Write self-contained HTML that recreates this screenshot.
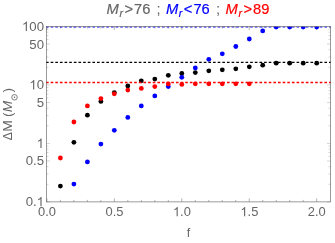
<!DOCTYPE html>
<html><head><meta charset="utf-8"><title>plot</title>
<style>
html,body{margin:0;padding:0;background:#fff;}
body{width:335px;height:243px;overflow:hidden;font-family:"Liberation Sans",sans-serif;}
svg{display:block;position:absolute;left:0;top:0;will-change:transform;}
text{font-family:"Liberation Sans",sans-serif;}
</style></head><body>
<svg width="335" height="243" viewBox="0 0 335 243">
<defs><clipPath id="c"><rect x="46.0" y="26.5" width="285.0" height="175.4"/></clipPath></defs>
<rect width="335" height="243" fill="#fff"/>
<g stroke="#666" stroke-width="0.28" fill="none"><line x1="46.50" y1="201.90" x2="50.00" y2="201.90"/><line x1="330.50" y1="201.90" x2="327.00" y2="201.90"/><line x1="46.50" y1="184.30" x2="48.50" y2="184.30"/><line x1="330.50" y1="184.30" x2="328.50" y2="184.30"/><line x1="46.50" y1="174.00" x2="48.50" y2="174.00"/><line x1="330.50" y1="174.00" x2="328.50" y2="174.00"/><line x1="46.50" y1="166.70" x2="48.50" y2="166.70"/><line x1="330.50" y1="166.70" x2="328.50" y2="166.70"/><line x1="46.50" y1="161.03" x2="50.00" y2="161.03"/><line x1="330.50" y1="161.03" x2="327.00" y2="161.03"/><line x1="46.50" y1="156.40" x2="48.50" y2="156.40"/><line x1="330.50" y1="156.40" x2="328.50" y2="156.40"/><line x1="46.50" y1="152.49" x2="48.50" y2="152.49"/><line x1="330.50" y1="152.49" x2="328.50" y2="152.49"/><line x1="46.50" y1="149.10" x2="48.50" y2="149.10"/><line x1="330.50" y1="149.10" x2="328.50" y2="149.10"/><line x1="46.50" y1="146.11" x2="48.50" y2="146.11"/><line x1="330.50" y1="146.11" x2="328.50" y2="146.11"/><line x1="46.50" y1="143.43" x2="50.00" y2="143.43"/><line x1="330.50" y1="143.43" x2="327.00" y2="143.43"/><line x1="46.50" y1="125.83" x2="48.50" y2="125.83"/><line x1="330.50" y1="125.83" x2="328.50" y2="125.83"/><line x1="46.50" y1="115.54" x2="48.50" y2="115.54"/><line x1="330.50" y1="115.54" x2="328.50" y2="115.54"/><line x1="46.50" y1="108.23" x2="48.50" y2="108.23"/><line x1="330.50" y1="108.23" x2="328.50" y2="108.23"/><line x1="46.50" y1="102.57" x2="50.00" y2="102.57"/><line x1="330.50" y1="102.57" x2="327.00" y2="102.57"/><line x1="46.50" y1="97.94" x2="48.50" y2="97.94"/><line x1="330.50" y1="97.94" x2="328.50" y2="97.94"/><line x1="46.50" y1="94.02" x2="48.50" y2="94.02"/><line x1="330.50" y1="94.02" x2="328.50" y2="94.02"/><line x1="46.50" y1="90.63" x2="48.50" y2="90.63"/><line x1="330.50" y1="90.63" x2="328.50" y2="90.63"/><line x1="46.50" y1="87.64" x2="48.50" y2="87.64"/><line x1="330.50" y1="87.64" x2="328.50" y2="87.64"/><line x1="46.50" y1="84.97" x2="50.00" y2="84.97"/><line x1="330.50" y1="84.97" x2="327.00" y2="84.97"/><line x1="46.50" y1="67.37" x2="48.50" y2="67.37"/><line x1="330.50" y1="67.37" x2="328.50" y2="67.37"/><line x1="46.50" y1="57.07" x2="48.50" y2="57.07"/><line x1="330.50" y1="57.07" x2="328.50" y2="57.07"/><line x1="46.50" y1="49.77" x2="48.50" y2="49.77"/><line x1="330.50" y1="49.77" x2="328.50" y2="49.77"/><line x1="46.50" y1="44.10" x2="50.00" y2="44.10"/><line x1="330.50" y1="44.10" x2="327.00" y2="44.10"/><line x1="46.50" y1="39.47" x2="48.50" y2="39.47"/><line x1="330.50" y1="39.47" x2="328.50" y2="39.47"/><line x1="46.50" y1="35.56" x2="48.50" y2="35.56"/><line x1="330.50" y1="35.56" x2="328.50" y2="35.56"/><line x1="46.50" y1="32.17" x2="48.50" y2="32.17"/><line x1="330.50" y1="32.17" x2="328.50" y2="32.17"/><line x1="46.50" y1="29.18" x2="48.50" y2="29.18"/><line x1="330.50" y1="29.18" x2="328.50" y2="29.18"/></g>
<g stroke="#666" stroke-width="0.5" fill="none"><line x1="46.90" y1="201.90" x2="46.90" y2="198.40"/><line x1="46.90" y1="26.50" x2="46.90" y2="30.00"/><line x1="60.39" y1="201.90" x2="60.39" y2="199.90"/><line x1="60.39" y1="26.50" x2="60.39" y2="28.50"/><line x1="73.88" y1="201.90" x2="73.88" y2="199.90"/><line x1="73.88" y1="26.50" x2="73.88" y2="28.50"/><line x1="87.37" y1="201.90" x2="87.37" y2="199.90"/><line x1="87.37" y1="26.50" x2="87.37" y2="28.50"/><line x1="100.86" y1="201.90" x2="100.86" y2="199.90"/><line x1="100.86" y1="26.50" x2="100.86" y2="28.50"/><line x1="114.35" y1="201.90" x2="114.35" y2="198.40"/><line x1="114.35" y1="26.50" x2="114.35" y2="30.00"/><line x1="127.84" y1="201.90" x2="127.84" y2="199.90"/><line x1="127.84" y1="26.50" x2="127.84" y2="28.50"/><line x1="141.33" y1="201.90" x2="141.33" y2="199.90"/><line x1="141.33" y1="26.50" x2="141.33" y2="28.50"/><line x1="154.82" y1="201.90" x2="154.82" y2="199.90"/><line x1="154.82" y1="26.50" x2="154.82" y2="28.50"/><line x1="168.31" y1="201.90" x2="168.31" y2="199.90"/><line x1="168.31" y1="26.50" x2="168.31" y2="28.50"/><line x1="181.80" y1="201.90" x2="181.80" y2="198.40"/><line x1="181.80" y1="26.50" x2="181.80" y2="30.00"/><line x1="195.29" y1="201.90" x2="195.29" y2="199.90"/><line x1="195.29" y1="26.50" x2="195.29" y2="28.50"/><line x1="208.78" y1="201.90" x2="208.78" y2="199.90"/><line x1="208.78" y1="26.50" x2="208.78" y2="28.50"/><line x1="222.27" y1="201.90" x2="222.27" y2="199.90"/><line x1="222.27" y1="26.50" x2="222.27" y2="28.50"/><line x1="235.76" y1="201.90" x2="235.76" y2="199.90"/><line x1="235.76" y1="26.50" x2="235.76" y2="28.50"/><line x1="249.25" y1="201.90" x2="249.25" y2="198.40"/><line x1="249.25" y1="26.50" x2="249.25" y2="30.00"/><line x1="262.74" y1="201.90" x2="262.74" y2="199.90"/><line x1="262.74" y1="26.50" x2="262.74" y2="28.50"/><line x1="276.23" y1="201.90" x2="276.23" y2="199.90"/><line x1="276.23" y1="26.50" x2="276.23" y2="28.50"/><line x1="289.72" y1="201.90" x2="289.72" y2="199.90"/><line x1="289.72" y1="26.50" x2="289.72" y2="28.50"/><line x1="303.21" y1="201.90" x2="303.21" y2="199.90"/><line x1="303.21" y1="26.50" x2="303.21" y2="28.50"/><line x1="316.70" y1="201.90" x2="316.70" y2="198.40"/><line x1="316.70" y1="26.50" x2="316.70" y2="30.00"/></g>
<g clip-path="url(#c)">
<g fill="#000"><circle cx="60.4" cy="186.1" r="2.4"/><circle cx="73.9" cy="142.3" r="2.4"/><circle cx="87.4" cy="115.2" r="2.4"/><circle cx="100.9" cy="101.4" r="2.4"/><circle cx="114.3" cy="92.6" r="2.4"/><circle cx="127.8" cy="85.9" r="2.4"/><circle cx="141.3" cy="80.8" r="2.4"/><circle cx="154.8" cy="79.1" r="2.4"/><circle cx="168.3" cy="75.3" r="2.4"/><circle cx="181.8" cy="73.5" r="2.4"/><circle cx="195.3" cy="72.6" r="2.4"/><circle cx="208.8" cy="70.8" r="2.4"/><circle cx="222.3" cy="69.8" r="2.4"/><circle cx="235.8" cy="68.8" r="2.4"/><circle cx="249.3" cy="66.8" r="2.4"/><circle cx="262.7" cy="65.2" r="2.4"/><circle cx="276.2" cy="63.2" r="2.4"/><circle cx="289.7" cy="63.2" r="2.4"/><circle cx="303.2" cy="63.2" r="2.4"/><circle cx="316.7" cy="63.2" r="2.4"/></g>
<g fill="#0000ff"><circle cx="73.9" cy="184.1" r="2.4"/><circle cx="87.4" cy="161.9" r="2.4"/><circle cx="100.9" cy="144.1" r="2.4"/><circle cx="114.3" cy="130.3" r="2.4"/><circle cx="127.8" cy="117.4" r="2.4"/><circle cx="141.3" cy="105.9" r="2.4"/><circle cx="154.8" cy="95.9" r="2.4"/><circle cx="168.3" cy="86.6" r="2.4"/><circle cx="181.8" cy="77.3" r="2.4"/><circle cx="195.3" cy="67.9" r="2.4"/><circle cx="208.8" cy="59.3" r="2.4"/><circle cx="222.3" cy="53.8" r="2.4"/><circle cx="235.8" cy="46.5" r="2.4"/><circle cx="249.3" cy="39.0" r="2.4"/><circle cx="262.7" cy="30.9" r="2.4"/><circle cx="276.2" cy="27.1" r="2.4"/><circle cx="289.7" cy="27.1" r="2.4"/><circle cx="303.2" cy="27.1" r="2.4"/><circle cx="316.7" cy="27.1" r="2.4"/></g>
<g fill="#ff0000"><circle cx="60.4" cy="158.0" r="2.4"/><circle cx="73.9" cy="122.0" r="2.4"/><circle cx="87.4" cy="105.9" r="2.4"/><circle cx="100.9" cy="98.6" r="2.4"/><circle cx="114.3" cy="93.8" r="2.4"/><circle cx="127.8" cy="90.1" r="2.4"/><circle cx="141.3" cy="88.4" r="2.4"/><circle cx="154.8" cy="86.6" r="2.4"/><circle cx="168.3" cy="83.9" r="2.4"/><circle cx="181.8" cy="84.4" r="2.4"/><circle cx="195.3" cy="83.8" r="2.4"/><circle cx="208.8" cy="83.8" r="2.4"/><circle cx="222.3" cy="83.8" r="2.4"/><circle cx="235.8" cy="83.8" r="2.4"/><circle cx="249.3" cy="83.8" r="2.4"/></g>
<g stroke-width="1.4" stroke-dasharray="2.64 2" fill="none"><line x1="46" y1="62.4" x2="331" y2="62.4" stroke="#000"/><line x1="46" y1="26.9" x2="331" y2="26.9" stroke="#0000ff"/><line x1="46" y1="82.5" x2="331" y2="82.5" stroke="#ff0000"/></g>
</g>
<rect x="46.5" y="26.5" width="284.0" height="175.4" fill="none" stroke="#666" stroke-width="0.65"/>
<g fill="#666" font-size="13.2">
<path transform="translate(21.98,30.95) scale(0.00645,-0.00645)" d="M763 0H583V1147Q518 1085 412.5 1023T223 930V1104Q373 1174.5 485 1275T644 1466H763Z"/><text x="29.32" y="30.95" font-size="13.2">00</text><text x="29.32" y="48.55" font-size="13.2">50</text><path transform="translate(29.32,89.42) scale(0.00645,-0.00645)" d="M763 0H583V1147Q518 1085 412.5 1023T223 930V1104Q373 1174.5 485 1275T644 1466H763Z"/><text x="36.66" y="89.42" font-size="13.2">0</text><text x="36.66" y="107.02" font-size="13.2">5</text><path transform="translate(36.66,147.88) scale(0.00645,-0.00645)" d="M763 0H583V1147Q518 1085 412.5 1023T223 930V1104Q373 1174.5 485 1275T644 1466H763Z"/><text x="25.65" y="165.48" font-size="13.2">0.5</text><text x="25.65" y="206.35" font-size="13.2">0.</text><path transform="translate(36.66,206.35) scale(0.00645,-0.00645)" d="M763 0H583V1147Q518 1085 412.5 1023T223 930V1104Q373 1174.5 485 1275T644 1466H763Z"/><text x="38.03" y="216.25" font-size="12.9">0.0</text><text x="105.48" y="216.25" font-size="12.9">0.5</text><path transform="translate(172.93,216.25) scale(0.00630,-0.00630)" d="M763 0H583V1147Q518 1085 412.5 1023T223 930V1104Q373 1174.5 485 1275T644 1466H763Z"/><text x="180.11" y="216.25" font-size="12.9">.0</text><path transform="translate(240.38,216.25) scale(0.00630,-0.00630)" d="M763 0H583V1147Q518 1085 412.5 1023T223 930V1104Q373 1174.5 485 1275T644 1466H763Z"/><text x="247.56" y="216.25" font-size="12.9">.5</text><text x="307.83" y="216.25" font-size="12.9">2.0</text><text x="188.6" y="237.4" text-anchor="middle" font-size="12.5">f</text>
<g font-size="12.5" transform="translate(11.8,139.9) rotate(-90)"><text x="-0.3" y="0" textLength="8" lengthAdjust="spacingAndGlyphs">Δ</text><text x="8.2" y="0" textLength="11.6" lengthAdjust="spacingAndGlyphs">M</text><text x="23.2" y="0">(</text><text x="27.6" y="0" font-style="italic" textLength="11.4" lengthAdjust="spacingAndGlyphs">M</text><circle cx="42.6" cy="2.7" r="2.75" fill="none" stroke="#666" stroke-width="0.85"/><circle cx="42.6" cy="2.7" r="0.75"/><text x="47.7" y="0">)</text></g>
</g>
<g fill="#666" stroke="#666" stroke-width="0.2" font-size="14.7"><text x="106.5" y="14.2" font-style="italic" textLength="12.3" lengthAdjust="spacingAndGlyphs">M</text><text x="119.4" y="16.8" font-style="italic" font-size="10.5">r</text><text x="124.4" y="14.2">&gt;</text><text x="134.0" y="14.2">76</text></g>
<text x="156.5" y="14.2" fill="#666" font-size="14.7">;</text>
<g fill="#0000ff" stroke="#0000ff" stroke-width="0.2" font-size="14.7"><text x="165.9" y="14.2" font-style="italic" textLength="12.3" lengthAdjust="spacingAndGlyphs">M</text><text x="178.8" y="16.8" font-style="italic" font-size="10.5">r</text><text x="183.8" y="14.2">&lt;</text><text x="193.4" y="14.2">76</text></g>
<text x="216.1" y="14.2" fill="#666" font-size="14.7">;</text>
<g fill="#ff0000" stroke="#ff0000" stroke-width="0.2" font-size="14.7"><text x="225.5" y="14.2" font-style="italic" textLength="12.3" lengthAdjust="spacingAndGlyphs">M</text><text x="238.4" y="16.8" font-style="italic" font-size="10.5">r</text><text x="243.4" y="14.2">&gt;</text><text x="253.0" y="14.2">89</text></g>
</svg>
</body></html>
